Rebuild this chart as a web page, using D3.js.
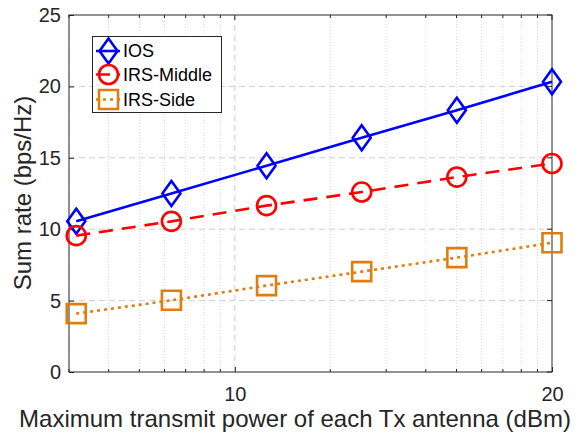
<!DOCTYPE html>
<html>
<head>
<meta charset="utf-8">
<script src="https://cdn.jsdelivr.net/npm/d3@7"></script>
<style>
  html, body { margin: 0; padding: 0; background: #fff; }
  svg { display: block; font-family: "Liberation Sans", Arial, Helvetica, sans-serif; }
</style>
</head>
<body>
<svg id="chart" width="580" height="434"></svg>
<script>
// Transmit power per antenna (dBm)
const powerDbm = [5, 8, 11, 14, 17, 20];
// Sum rate (bps/Hz) per scheme
const iosRate = [10.55, 12.5, 14.45, 16.4, 18.33, 20.32];
const irsMiddleRate = [9.55, 10.55, 11.65, 12.6, 13.65, 14.6];
const irsSideRate = [4.09, 5.02, 6.05, 7.03, 8.01, 9.05];
const seriesNames = ["IOS", "IRS-Middle", "IRS-Side"];
const xTickLabels = [10, 20];
const yTickValues = [0, 5, 10, 15, 20, 25];

const series = [
  { name: seriesNames[0], values: iosRate, color: "#0000ff", dash: null, marker: "diamond" },
  { name: seriesNames[1], values: irsMiddleRate, color: "#ff0000", dash: "14,9", marker: "circle" },
  { name: seriesNames[2], values: irsSideRate, color: "#dd7e0e", dash: "3,4", marker: "square" }
];

const svg = d3.select("#chart");
const mLeft = 69, mRight = 552, mTop = 15, mBottom = 372;

// x axis is logarithmic in linear power (3 mW .. 100 mW), labelled in dBm
const x = d3.scaleLinear().domain([10 * Math.log10(3), 20]).range([mLeft, mRight]);
const y = d3.scaleLinear().domain([0, 25]).range([mBottom, mTop]);

// minor x positions: 10*log10(k) and 10+10*log10(k)
const minorX = [];
for (let k = 3; k <= 9; k++) minorX.push(10 * Math.log10(k));
for (let k = 2; k <= 9; k++) minorX.push(10 + 10 * Math.log10(k));

const grid = svg.append("g");
grid.selectAll("line.minor").data(minorX).join("line")
  .attr("x1", d => x(d)).attr("x2", d => x(d))
  .attr("y1", mTop).attr("y2", mBottom)
  .attr("stroke", "#dcdcdc").attr("stroke-width", 1).attr("stroke-dasharray", "1,2");
grid.selectAll("line.majx").data(xTickLabels.filter(d => d < 20)).join("line")
  .attr("x1", d => x(d)).attr("x2", d => x(d))
  .attr("y1", mTop).attr("y2", mBottom)
  .attr("stroke", "#cfcfcf").attr("stroke-width", 1).attr("stroke-dasharray", "6,4");
grid.selectAll("line.majy").data(yTickValues.filter(d => d > 0 && d < 25)).join("line")
  .attr("x1", mLeft).attr("x2", mRight)
  .attr("y1", d => y(d)).attr("y2", d => y(d))
  .attr("stroke", "#cfcfcf").attr("stroke-width", 1).attr("stroke-dasharray", "6,4");

// axes
const xAxis = d3.axisBottom(x).tickValues(xTickLabels).tickSizeInner(-5).tickSizeOuter(0).tickPadding(15);
const gx = svg.append("g").attr("transform", `translate(0,${mBottom})`).call(xAxis);
const yAxis = d3.axisLeft(y).tickValues(yTickValues).tickSizeInner(-5).tickSizeOuter(0).tickPadding(8);
const gy = svg.append("g").attr("transform", `translate(${mLeft},0)`).call(yAxis);
[gx, gy].forEach(g => {
  g.select(".domain").remove();
  g.selectAll(".tick line").attr("stroke", "#262626");
  g.selectAll(".tick text").attr("fill", "#262626").style("font-size", "20px").style("font-family", "Liberation Sans, Arial, sans-serif");
});
// minor ticks along bottom and top
svg.append("g").selectAll("line").data(minorX).join("line")
  .attr("x1", d => x(d)).attr("x2", d => x(d)).attr("y1", mBottom).attr("y2", mBottom - 3)
  .attr("stroke", "#262626");
svg.append("g").selectAll("line").data(minorX).join("line")
  .attr("x1", d => x(d)).attr("x2", d => x(d)).attr("y1", mTop).attr("y2", mTop + 3)
  .attr("stroke", "#262626");
// right-side ticks
svg.append("g").selectAll("line").data(yTickValues).join("line")
  .attr("x1", mRight).attr("x2", mRight - 5).attr("y1", d => y(d)).attr("y2", d => y(d))
  .attr("stroke", "#262626");
svg.append("g").selectAll("line").data(xTickLabels).join("line")
  .attr("x1", d => x(d)).attr("x2", d => x(d)).attr("y1", mTop).attr("y2", mTop + 5)
  .attr("stroke", "#262626");

svg.append("rect").attr("x", mLeft).attr("y", mTop).attr("width", mRight - mLeft).attr("height", mBottom - mTop)
  .attr("fill", "none").attr("stroke", "#262626").attr("stroke-width", 1);

// marker shapes
function markerPath(type, cx, cy) {
  if (type === "diamond") return `M${cx},${cy - 12.5}L${cx + 9},${cy}L${cx},${cy + 12.5}L${cx - 9},${cy}Z`;
  if (type === "square") return `M${cx - 9.5},${cy - 9.5}h19v19h-19Z`;
  return null;
}
function drawMarker(g, s, cx, cy) {
  if (s.marker === "circle") {
    g.append("circle").attr("cx", cx).attr("cy", cy).attr("r", 9.5)
      .attr("fill", "none").attr("stroke", s.color).attr("stroke-width", 2.6);
  } else {
    g.append("path").attr("d", markerPath(s.marker, cx, cy))
      .attr("fill", "none").attr("stroke", s.color).attr("stroke-width", 2.6);
  }
}

const line = d3.line().x((d, i) => x(powerDbm[i])).y(d => y(d));
const plot = svg.append("g");
series.forEach(s => {
  plot.append("path").datum(s.values).attr("d", line)
    .attr("fill", "none").attr("stroke", s.color).attr("stroke-width", 2.6)
    .attr("stroke-dasharray", s.dash);
  const mg = plot.append("g");
  s.values.forEach((v, i) => drawMarker(mg, s, x(powerDbm[i]), y(v)));
});

// legend
const lg = svg.append("g");
lg.append("rect").attr("x", 92.5).attr("y", 36.5).attr("width", 129).attr("height", 76)
  .attr("fill", "#fff").attr("stroke", "#262626").attr("stroke-width", 1);
const legendY = [51, 74.5, 99.5];
series.forEach((s, i) => {
  const cy = legendY[i];
  lg.append("line").attr("x1", 96).attr("x2", 120).attr("y1", cy).attr("y2", cy)
    .attr("stroke", s.color).attr("stroke-width", 2.6).attr("stroke-dasharray", s.dash);
  drawMarker(lg, s, 108.5, cy);
  lg.append("text").attr("x", 123).attr("y", cy).attr("dy", "0.36em")
    .attr("fill", "#000").style("font-size", "18px").text(s.name);
});

// axis titles
svg.append("text").attr("x", 295).attr("y", 427).attr("text-anchor", "middle")
  .attr("fill", "#262626").style("font-size", "24px")
  .text("Maximum transmit power of each Tx antenna (dBm)");
svg.append("text").attr("transform", "translate(31,193) rotate(-90)").attr("text-anchor", "middle")
  .attr("fill", "#262626").style("font-size", "24px")
  .text("Sum rate (bps/Hz)");
</script>
</body>
</html>
